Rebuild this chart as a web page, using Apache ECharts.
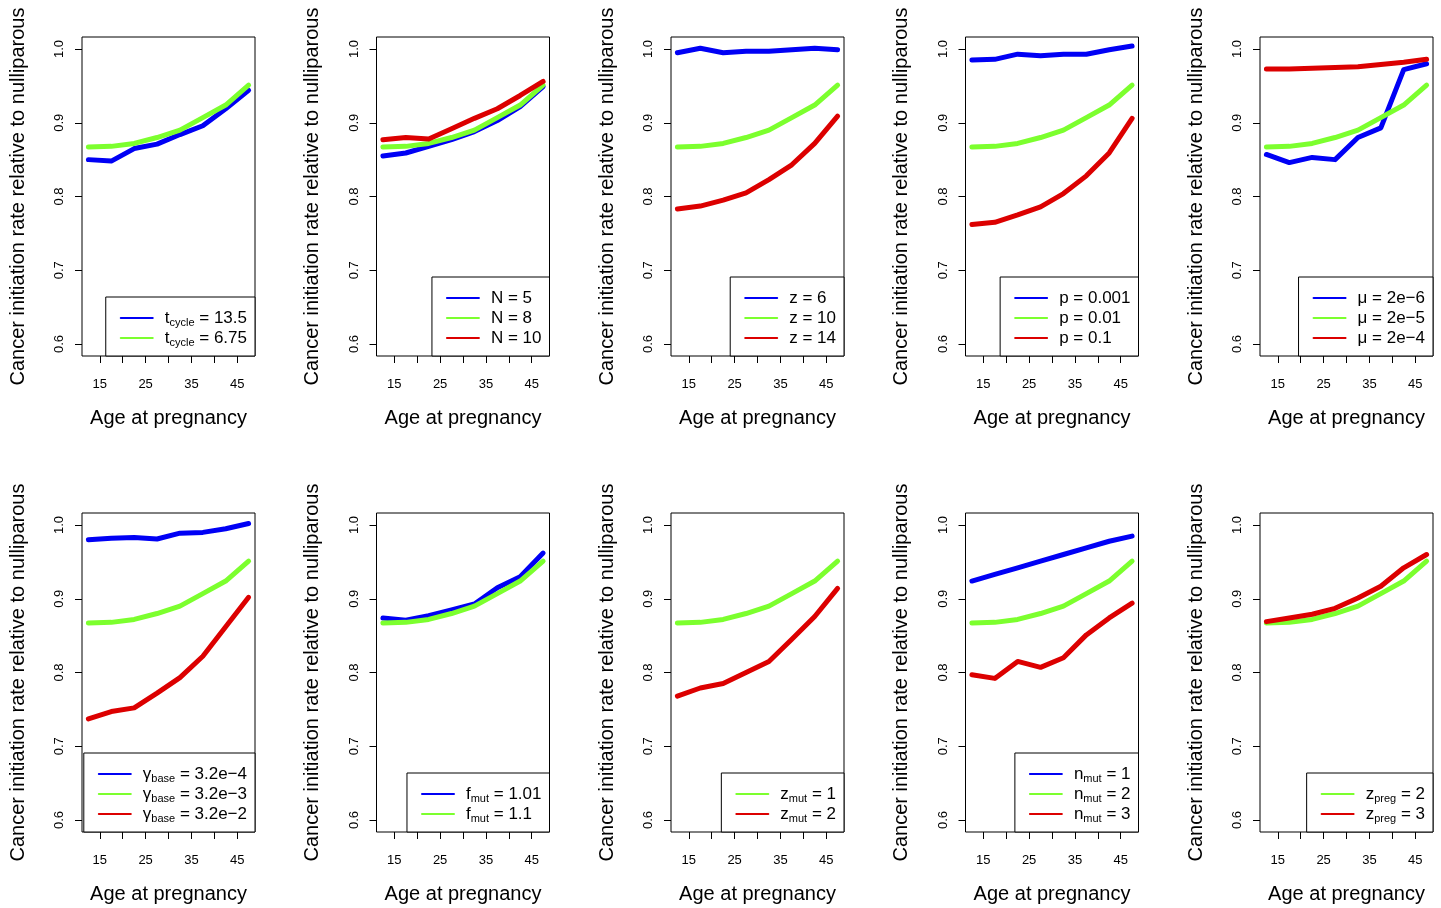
<!DOCTYPE html>
<html>
<head>
<meta charset="utf-8">
<script src="https://cdn.jsdelivr.net/npm/echarts@6/dist/echarts.min.js"></script>
<style>
  html, body { margin: 0; padding: 0; background: #fff; }
  #chart { width: 1441px; height: 908px; }
</style>
</head>
<body>
<div id="chart"></div>
<script>
// x positions of the simulated pregnancies
const ages = [12.5, 17.5, 22.5, 27.5, 32.5, 37.5, 42.5, 47.5];
const xTicks = [15, 20, 25, 30, 35, 40, 45];
const xTickLabels = [15, 25, 35, 45];
const yTicks = [0.6, 0.7, 0.8, 0.9, 1.0];

// green reference curve, shared by every panel
const baseline = [0.867, 0.868, 0.872, 0.880, 0.890, 0.907, 0.924, 0.951];

const tcycle135 = [0.850, 0.848, 0.865, 0.871, 0.884, 0.896, 0.919, 0.944];
const nFive = [0.855, 0.859, 0.868, 0.877, 0.888, 0.903, 0.922, 0.949];
const nTen = [0.877, 0.880, 0.878, 0.892, 0.906, 0.919, 0.937, 0.956];
const zSix = [0.995, 1.001, 0.995, 0.997, 0.997, 0.999, 1.001, 0.999];
const zFourteen = [0.783, 0.787, 0.795, 0.805, 0.823, 0.843, 0.872, 0.909];
const pSmall = [0.985, 0.986, 0.993, 0.991, 0.993, 0.993, 0.999, 1.004];
const pLarge = [0.762, 0.765, 0.775, 0.786, 0.804, 0.828, 0.859, 0.906];
const muLow = [0.857, 0.846, 0.853, 0.850, 0.880, 0.893, 0.972, 0.980];
const muHigh = [0.973, 0.973, 0.974, 0.975, 0.976, 0.979, 0.982, 0.986];
const gammaLow = [0.980, 0.982, 0.983, 0.981, 0.989, 0.990, 0.995, 1.002];
const gammaHigh = [0.737, 0.747, 0.752, 0.772, 0.793, 0.822, 0.862, 0.902];
const fmutLow = [0.874, 0.871, 0.877, 0.885, 0.893, 0.915, 0.930, 0.962];
const zmutTwo = [0.768, 0.779, 0.785, 0.800, 0.815, 0.845, 0.876, 0.914];
const nmutOne = [0.924, 0.933, 0.942, 0.951, 0.960, 0.969, 0.978, 0.985];
const nmutThree = [0.797, 0.792, 0.815, 0.807, 0.820, 0.851, 0.874, 0.894];
const zpregThree = [0.869, 0.874, 0.879, 0.887, 0.901, 0.917, 0.942, 0.960];

const BLUE = '#0000f5', GREEN = '#7cff2e', RED = '#dc0000';

// legend text: [symbol, subscript, rest]
const panels = [
  [[tcycle135, BLUE, ['t', 'cycle', ' = 13.5']], [baseline, GREEN, ['t', 'cycle', ' = 6.75']]],
  [[nFive, BLUE, ['N = 5', '', '']], [baseline, GREEN, ['N = 8', '', '']], [nTen, RED, ['N = 10', '', '']]],
  [[zSix, BLUE, ['z = 6', '', '']], [baseline, GREEN, ['z = 10', '', '']], [zFourteen, RED, ['z = 14', '', '']]],
  [[pSmall, BLUE, ['p = 0.001', '', '']], [baseline, GREEN, ['p = 0.01', '', '']], [pLarge, RED, ['p = 0.1', '', '']]],
  [[muLow, BLUE, ['μ = 2e−6', '', '']], [baseline, GREEN, ['μ = 2e−5', '', '']], [muHigh, RED, ['μ = 2e−4', '', '']]],
  [[gammaLow, BLUE, ['γ', 'base', ' = 3.2e−4']], [baseline, GREEN, ['γ', 'base', ' = 3.2e−3']], [gammaHigh, RED, ['γ', 'base', ' = 3.2e−2']]],
  [[fmutLow, BLUE, ['f', 'mut', ' = 1.01']], [baseline, GREEN, ['f', 'mut', ' = 1.1']]],
  [[baseline, GREEN, ['z', 'mut', ' = 1']], [zmutTwo, RED, ['z', 'mut', ' = 2']]],
  [[nmutOne, BLUE, ['n', 'mut', ' = 1']], [baseline, GREEN, ['n', 'mut', ' = 2']], [nmutThree, RED, ['n', 'mut', ' = 3']]],
  [[baseline, GREEN, ['z', 'preg', ' = 2']], [zpregThree, RED, ['z', 'preg', ' = 3']]]
];

const colLeft = [82, 376.5, 671, 965.5, 1260];
const rowTop = [37, 513];
const boxW = 173, boxH = 319;
const W = 1441, H = 908;

const font = 'Liberation Sans, Arial, Helvetica, sans-serif';
const grid = [], xAxis = [], yAxis = [], series = [], legend = [];
const richName = {};

panels.forEach((p, i) => {
  const left = colLeft[i % 5], top = rowTop[Math.floor(i / 5)];
  grid.push({
    left: left, top: top, width: boxW, height: boxH,
    show: true, borderColor: '#000', borderWidth: 1, backgroundColor: 'transparent',
    outerBoundsMode: 'none'
  });
  xAxis.push({
    type: 'value', gridIndex: i, min: 11.1, max: 48.9,
    name: 'Age at pregnancy', nameLocation: 'middle', nameGap: 52,
    nameTextStyle: { fontSize: 20, color: '#000', fontFamily: font },
    axisLine: { show: false },
    splitLine: { show: false },
    axisTick: { show: true, length: 7, customValues: xTicks, lineStyle: { color: '#000' } },
    axisLabel: { customValues: xTickLabels, fontSize: 13, color: '#000', margin: 22, fontFamily: font }
  });
  yAxis.push({
    type: 'value', gridIndex: i, min: 0.5837, max: 1.0163,
    name: 'Cancer initiation rate relative to nulliparous', nameLocation: 'middle', nameGap: 54,
    nameTextStyle: { fontSize: 20, color: '#000', fontFamily: font },
    axisLine: { show: false },
    splitLine: { show: false },
    axisTick: { show: true, length: 7, customValues: yTicks, lineStyle: { color: '#000' } },
    axisLabel: {
      customValues: yTicks, rotate: 90, fontSize: 13, color: '#000', margin: 16, fontFamily: font,
      formatter: v => v.toFixed(1)
    }
  });
  const names = [];
  p.forEach(([vals, color, lab]) => {
    const name = lab.join('_');
    names.push(name);
    richName[name] = '{g|}{b|' + lab[0] + '}' + (lab[1] ? '{s|' + lab[1] + '}' : '') + (lab[2] ? '{b|' + lab[2] + '}' : '');
    series.push({
      type: 'line', name: name, xAxisIndex: i, yAxisIndex: i,
      data: ages.map((a, k) => [a, vals[k]]),
      symbol: 'none', color: color,
      lineStyle: { width: 5, color: color, cap: 'round', join: 'round' },
      emphasis: { disabled: true }, animation: false
    });
  });
  legend.push({
    data: names, orient: 'vertical',
    right: W - (left + boxW), bottom: H - (top + boxH),
    itemWidth: 32, itemHeight: 20, itemGap: 0,
    padding: [11, 8, 8, 14],
    borderColor: '#000', borderWidth: 1, borderRadius: 0, backgroundColor: '#fff',
    lineStyle: { width: 2 },
    itemStyle: { opacity: 0, borderWidth: 0 },
    selectedMode: false,
    formatter: n => richName[n],
    textStyle: {
      fontSize: 17, color: '#000', fontFamily: font, lineHeight: 20,
      rich: {
        g: { width: 7, lineHeight: 20 },
        b: { fontSize: 17, color: '#000', fontFamily: font, lineHeight: 20 },
        s: { fontSize: 11, color: '#000', fontFamily: font, lineHeight: 20, padding: [9, 0, 0, 0] }
      }
    }
  });
});

const chart = echarts.init(document.getElementById('chart'), null, { renderer: 'canvas' });
chart.setOption({
  animation: false,
  backgroundColor: '#fff',
  grid: grid, xAxis: xAxis, yAxis: yAxis, legend: legend, series: series
});
</script>
</body>
</html>
